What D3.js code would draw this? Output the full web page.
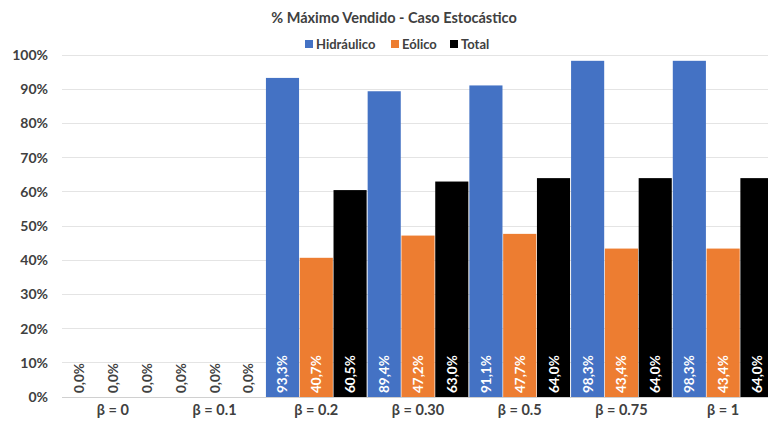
<!DOCTYPE html>
<html>
<head>
<meta charset="utf-8">
<script src="https://cdn.jsdelivr.net/npm/d3@7/dist/d3.min.js"></script>
<style>
  html, body { margin: 0; padding: 0; background: #fff; overflow: hidden; }
  svg { display: block; font-family: Lato, "Open Sans", sans-serif; }
</style>
</head>
<body>
<svg id="chart" width="768" height="429"></svg>
<script>
// Chart data
const categories = ["β = 0", "β = 0.1", "β = 0.2", "β = 0.30", "β = 0.5", "β = 0.75", "β = 1"];
const seriesNames = ["Hidráulico", "Eólico", "Total"];
const hidraulico = [0.0, 0.0, 93.3, 89.4, 91.1, 98.3, 98.3];
const eolico     = [0.0, 0.0, 40.7, 47.2, 47.7, 43.4, 43.4];
const total      = [0.0, 0.0, 60.5, 63.0, 64.0, 64.0, 64.0];
const yTicks = [0, 10, 20, 30, 40, 50, 60, 70, 80, 90, 100];
const colors = ["#4472C4", "#ED7D31", "#000000"];
const seriesValues = [hidraulico, eolico, total];

const svg = d3.select("#chart");
const margin = { left: 62, right: -6, top: 55, bottom: 32 };
const W = 768, H = 429;
const plotRight = W - margin.right;
const plotBottom = H - margin.bottom;

const x0 = d3.scaleBand().domain(categories).range([margin.left, plotRight]).paddingInner(0).paddingOuter(0);
const x1 = d3.scaleBand().domain(seriesNames).range([0, x0.bandwidth()]).paddingInner(0.02).paddingOuter(0.015);
const y = d3.scaleLinear().domain([0, 100]).range([plotBottom, margin.top]);

// Gridlines
svg.append("g")
  .selectAll("line")
  .data(yTicks)
  .join("line")
  .attr("x1", margin.left).attr("x2", plotRight)
  .attr("y1", d => y(d)).attr("y2", d => y(d))
  .attr("stroke", d => d === 0 ? "#d0d0d0" : "#e4e4e4")
  .attr("stroke-width", 1)
  .attr("shape-rendering", "crispEdges");

// Y axis labels
const yAxis = d3.axisLeft(y).tickValues(yTicks).tickFormat(d => d + "%").tickSize(0).tickPadding(0);
const gy = svg.append("g").attr("transform", `translate(${margin.left - 14},0)`).call(yAxis);
gy.select(".domain").remove();
gy.selectAll("text")
  .attr("font-family", "Lato, 'Open Sans', sans-serif")
  .attr("font-size", 14).attr("font-weight", "bold").attr("fill", "#404040");

// X axis labels
const xAxis = d3.axisBottom(x0).tickSize(0).tickPadding(0);
const gx = svg.append("g").attr("transform", `translate(0,${plotBottom + 8})`).call(xAxis);
gx.select(".domain").remove();
gx.selectAll("text")
  .attr("font-family", "Lato, 'Open Sans', sans-serif")
  .attr("font-size", 14.5).attr("font-weight", "bold").attr("fill", "#404040");

// Bars and value labels
const rows = categories.map((c, i) => ({
  cat: c,
  vals: seriesNames.map((s, j) => ({ s, j, v: seriesValues[j][i] }))
}));

const groups = svg.append("g")
  .selectAll("g")
  .data(rows)
  .join("g")
  .attr("transform", d => `translate(${x0(d.cat)},0)`);

groups.selectAll("rect")
  .data(d => d.vals)
  .join("rect")
  .attr("x", d => x1(d.s))
  .attr("width", x1.bandwidth())
  .attr("y", d => y(d.v))
  .attr("height", d => y(0) - y(d.v))
  .attr("fill", d => colors[d.j]);

groups.selectAll("text")
  .data(d => d.vals)
  .join("text")
  .attr("transform", d => `translate(${x1(d.s) + x1.bandwidth() / 2 + 5},${y(0) - 4}) rotate(-90)`)
  .attr("text-anchor", "start")
  .attr("font-size", 13.5)
  .attr("font-weight", "bold")
  .attr("fill", d => d.v === 0 ? "#404040" : "#ffffff")
  .text(d => d.v.toFixed(1).replace(".", ",") + "%");

// Title
svg.append("text")
  .attr("x", 394).attr("y", 23)
  .attr("text-anchor", "middle")
  .attr("font-size", 14.5).attr("font-weight", "bold").attr("fill", "#404040")
  .text("% Máximo Vendido - Caso Estocástico");

// Legend
const legendX = [305, 391, 450];
const legend = svg.append("g").selectAll("g")
  .data(seriesNames)
  .join("g")
  .attr("transform", (d, i) => `translate(${legendX[i]},44)`);
legend.append("rect")
  .attr("x", 0).attr("y", -4).attr("width", 8).attr("height", 8)
  .attr("fill", (d, i) => colors[i]);
legend.append("text")
  .attr("x", 11).attr("y", 5)
  .attr("font-size", 13).attr("font-weight", "bold").attr("fill", "#404040")
  .text(d => d);
</script>
</body>
</html>
